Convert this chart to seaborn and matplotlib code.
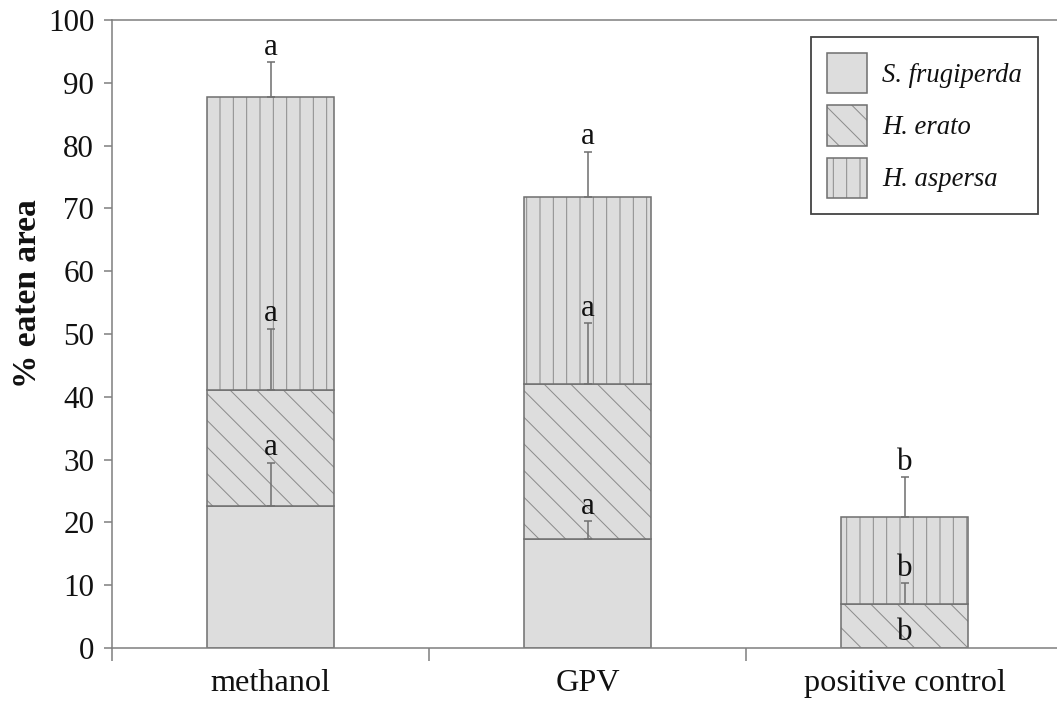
import matplotlib
matplotlib.use("Agg")
import matplotlib.pyplot as plt
import matplotlib.colors as mcolors
import seaborn as sns
import pandas as pd

# ---- data ----
categories = ["methanol", "GPV", "positive control"]
species = ["S. frugiperda", "H. erato", "H. aspersa"]
sf_vals = [22.6, 17.4, 0.0]
he_vals = [18.5, 24.6, 7.0]
ha_vals = [46.6, 29.8, 13.9]
sf_err = [6.9, 2.8, 0.0]
he_err = [9.7, 9.7, 3.3]
ha_err = [5.6, 7.2, 6.3]
sf_letters = ["a", "a", "b"]
he_letters = ["a", "a", "b"]
ha_letters = ["a", "a", "b"]
y_ticks = [0, 10, 20, 30, 40, 50, 60, 70, 80, 90, 100]
y_label = "% eaten area"

# ---- style ----
DPI = 80
plt.rcParams["font.family"] = ["Liberation Serif", "DejaVu Serif"]
plt.rcParams["hatch.linewidth"] = 0.9

FILL = "#dddddd"
EDGE = "#707070"
HATCHC = "#8c8c8c"
SPINE = "#808080"
TXT = "#111111"

fig = plt.figure(figsize=(1057 / DPI, 711 / DPI), dpi=DPI)
ax = fig.add_axes([112 / 1057, 63 / 711, 951 / 1057, 628 / 711])

series = [sf_vals, he_vals, ha_vals]
errs = [sf_err, he_err, ha_err]
letters = [sf_letters, he_letters, ha_letters]
hatches = ["", "\\", "|"]

bottoms = [0.0] * len(categories)
containers = []
tops_all = []
for name, vals, hatch in zip(species, series, hatches):
    df = pd.DataFrame({"cat": categories, "val": vals})
    sns.barplot(data=df, x="cat", y="val", order=categories, ax=ax,
                color=FILL, saturation=1, width=0.4, errorbar=None,
                edgecolor=EDGE, linewidth=1.4, hatch=hatch,
                bottom=bottoms, label=name)
    containers.append(ax.containers[-1])
    bottoms = [b + v for b, v in zip(bottoms, vals)]
    tops_all.append(list(bottoms))

for cont in containers:
    for p in cont.patches:
        p._hatch_color = mcolors.to_rgba(HATCHC)

# error bars + significance letters
xs = list(range(len(categories)))
for vals, tops, err, lets in zip(series, tops_all, errs, letters):
    ex = [x for x, e in zip(xs, err) if e > 0]
    ey = [t for t, e in zip(tops, err) if e > 0]
    ee = [e for e in err if e > 0]
    if ex:
        ax.errorbar(ex, ey, yerr=[[0] * len(ee), ee], fmt="none",
                    ecolor=EDGE, elinewidth=1.4, capsize=3.6, capthick=1.4,
                    zorder=3)
    for x, t, e, l in zip(xs, tops, err, lets):
        ax.text(x, t + e + 1.2, l, ha="center", va="baseline",
                fontsize=28, color=TXT, zorder=4)

# axes
ax.set_xlim(-0.5, 2.5)
ax.set_ylim(0, 100)
ax.set_yticks(y_ticks)
ax.set_yticklabels([str(t) for t in y_ticks])
ax.set_xticks([-0.5, 0.5, 1.5, 2.5])
ax.set_xticklabels([])
ax.set_xticks(xs, minor=True)
ax.set_xticklabels(categories, minor=True)
ax.tick_params(axis="x", which="major", length=12, width=1.4, color=SPINE,
               direction="out")
ax.tick_params(axis="x", which="minor", length=0, pad=19, labelsize=29,
               labelcolor=TXT)
ax.tick_params(axis="y", length=7, width=1.4, color=SPINE, pad=9,
               labelsize=28, labelcolor=TXT)
ax.set_xlabel("")
ax.set_ylabel(y_label, fontsize=30, fontweight="bold", color=TXT)
ax.yaxis.set_label_coords(-0.073, 0.565)

for side in ["left", "bottom", "top"]:
    ax.spines[side].set_color(SPINE)
    ax.spines[side].set_linewidth(1.4)
ax.spines["right"].set_visible(False)

leg = ax.legend(handles=containers, labels=species,
                loc="upper right",
                bbox_to_anchor=(1038 / 1057, 1 - 37 / 711),
                bbox_transform=fig.transFigure,
                borderaxespad=0, frameon=True, fancybox=False,
                handlelength=1.5, handleheight=1.95, labelspacing=0.45,
                handletextpad=0.55, borderpad=0.6,
                prop={"family": "Liberation Serif", "style": "italic",
                      "size": 24})
leg.get_frame().set_edgecolor(TXT)
leg.get_frame().set_linewidth(1.6)
for t in leg.get_texts():
    t.set_color(TXT)
for h in leg.legend_handles:
    h.set_edgecolor(EDGE)
    h._hatch_color = mcolors.to_rgba(HATCHC)

fig.savefig("out.png", dpi=DPI)
